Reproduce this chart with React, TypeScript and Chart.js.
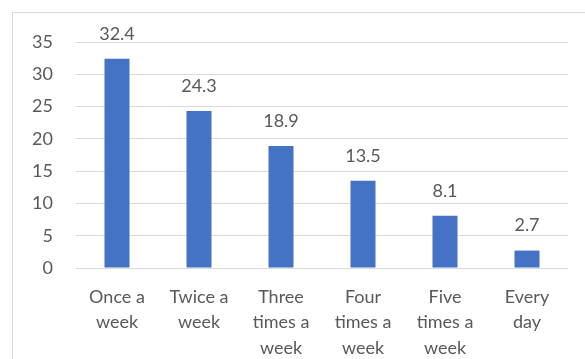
import React, { useEffect, useRef } from "react";
import { Chart, registerables } from "chart.js";

Chart.register(...registerables);

const categories: string[][] = [
  ["Once a", "week"],
  ["Twice a", "week"],
  ["Three", "times a", "week"],
  ["Four", "times a", "week"],
  ["Five", "times a", "week"],
  ["Every", "day"],
];
const values: number[] = [32.4, 24.3, 18.9, 13.5, 8.1, 2.7];
const yMin = 0;
const yMax = 35;
const yStep = 5;

const FONT = "Lato, 'Noto Sans', sans-serif";
const TEXT = "#595959";
const GRID = "#d9d9d9";
const BAR = "#4472C4";

// Prints each bar's value above it
const valueLabels = {
  id: "valueLabels",
  afterDatasetsDraw(chart: any) {
    const ctx = chart.ctx;
    const meta = chart.getDatasetMeta(0);
    ctx.save();
    ctx.font = `18px ${FONT}`;
    ctx.fillStyle = TEXT;
    ctx.textAlign = "center";
    ctx.textBaseline = "middle";
    meta.data.forEach((bar: any, i: number) => {
      ctx.fillText(String(values[i]), bar.x, bar.y - 25);
    });
    ctx.restore();
  },
};

// Light frame around the chart
const frame = {
  id: "frame",
  beforeDraw(chart: any) {
    const ctx = chart.ctx;
    ctx.save();
    ctx.fillStyle = "#ffffff";
    ctx.fillRect(0, 0, chart.width, chart.height);
    ctx.strokeStyle = GRID;
    ctx.lineWidth = 1;
    ctx.strokeRect(12.5, 12.5, chart.width + 20, chart.height + 20);
    ctx.restore();
  },
};

export default function App() {
  const ref = useRef<HTMLCanvasElement>(null);

  useEffect(() => {
    if (!ref.current) return;
    const chart = new Chart(ref.current, {
      type: "bar",
      data: {
        labels: categories,
        datasets: [
          {
            data: values,
            backgroundColor: BAR,
            barPercentage: 0.305,
            categoryPercentage: 1,
          },
        ],
      },
      options: {
        animation: false,
        responsive: false,
        layout: { padding: { top: 42, right: 17, left: 0, bottom: 0 } },
        plugins: {
          legend: { display: false },
          tooltip: { enabled: false },
        },
        scales: {
          x: {
            grid: { display: false, drawTicks: false },
            border: { display: false },
            ticks: {
              color: TEXT,
              font: { family: FONT, size: 18, lineHeight: 1.42 },
              padding: 16,
              maxRotation: 0,
              autoSkip: false,
            },
            afterFit(scale: any) {
              scale.height = 91;
            },
          },
          y: {
            min: yMin,
            max: yMax,
            grid: { color: GRID, lineWidth: 1, drawTicks: false },
            border: { display: false },
            ticks: {
              stepSize: yStep,
              color: TEXT,
              font: { family: FONT, size: 18 },
              padding: 23,
            },
            afterFit(scale: any) {
              scale.width = 76;
            },
          },
        },
      },
      plugins: [frame, valueLabels],
    });
    return () => chart.destroy();
  }, []);

  return (
    <div style={{ position: "absolute", left: 0, top: 0, width: 585, height: 359 }}>
      <canvas ref={ref} width={585} height={359} style={{ display: "block" }} />
    </div>
  );
}
